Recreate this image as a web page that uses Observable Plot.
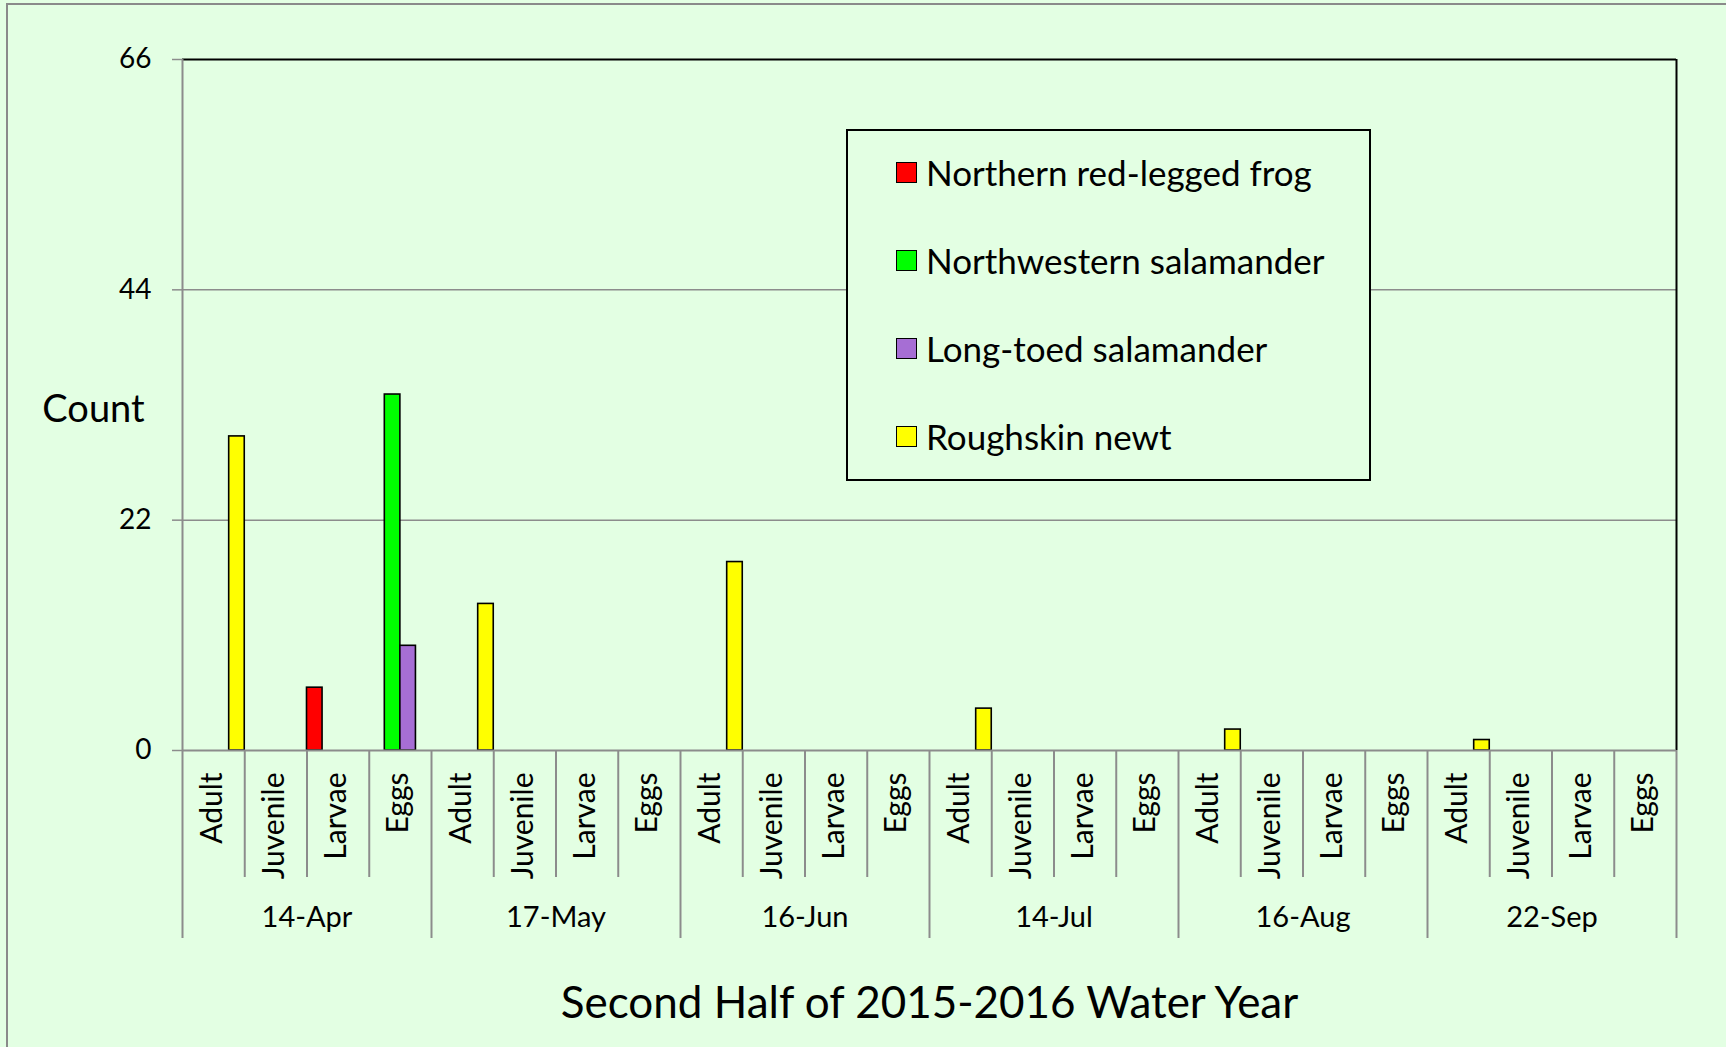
<!DOCTYPE html>
<html><head><meta charset="utf-8">
<script src="https://cdn.jsdelivr.net/npm/d3@7"></script>
<script src="https://cdn.jsdelivr.net/npm/@observablehq/plot@0.6"></script>
<style>
html,body{margin:0;padding:0;background:#E3FFE3;overflow:hidden;}
#wrap{position:relative;width:1726px;height:1047px;}
#border{position:absolute;left:6px;top:3px;width:1800px;height:1100px;border-left:2px solid #8a8a8a;border-top:2px solid #8a8a8a;box-sizing:border-box;}
#chart{position:absolute;left:0;top:0;}
#legend{position:absolute;left:846px;top:129px;width:521px;height:348px;border:2px solid #000;background:#E3FFE3;font-family:Lato, sans-serif;font-size:35px;color:#000;}
.row{position:absolute;left:48px;display:flex;align-items:center;height:40px;white-space:nowrap;}
.sw{width:19px;height:19px;border:1.5px solid #000;margin-right:9px;flex:none;}
</style></head><body>
<div id="wrap"><div id="border"></div><div id="chart"></div><div id="legend"></div></div>
<script>
const dates = ["14-Apr", "17-May", "16-Jun", "14-Jul", "16-Aug", "22-Sep"];
const stages = ["Adult", "Juvenile", "Larvae", "Eggs"];
const seriesNames = ["Northern red-legged frog", "Northwestern salamander", "Long-toed salamander", "Roughskin newt"];
const seriesColors = ["#FF0000", "#00FF00", "#A66ED4", "#FFFF00"];
const yTicks = [0, 22, 44, 66];
// values per date × stage (Adult, Juvenile, Larvae, Eggs)
const redLeggedFrog   = [0,0,6,0,  0,0,0,0,  0,0,0,0,  0,0,0,0,  0,0,0,0,  0,0,0,0];
const nwSalamander    = [0,0,0,34, 0,0,0,0,  0,0,0,0,  0,0,0,0,  0,0,0,0,  0,0,0,0];
const ltSalamander    = [0,0,0,10, 0,0,0,0,  0,0,0,0,  0,0,0,0,  0,0,0,0,  0,0,0,0];
const roughskinNewt   = [30,0,0,0, 14,0,0,0, 18,0,0,0, 4,0,0,0,  2,0,0,0,  1,0,0,0];
const seriesValues = [redLeggedFrog, nwSalamander, ltSalamander, roughskinNewt];

const cats = dates.flatMap(d => stages.map(s => ({key: d + "|" + s, date: d, stage: s})));
const keys = cats.map(c => c.key);
const data = seriesNames.flatMap((name, si) => cats.map((c, i) => ({key: c.key, series: name, value: seriesValues[si][i]})));

const W = 1726, H = 1047, mL = 182, mR = 50, mT = 59, mB = 297;
const plotW = W - mL - mR, plotH = H - mT - mB;
const bw = plotW / keys.length;
const grid = "#8c8c8c";

const bars = seriesNames.map((name, si) => Plot.barY(data.filter(d => d.series === name && d.value > 0), {
  x: "key", y: "value", fill: seriesColors[si], stroke: "#000", strokeWidth: 1.6,
  insetLeft: si * bw / 4, insetRight: (3 - si) * bw / 4
}));

const dateStarts = dates.map(d => d + "|Adult");
const stageInner = cats.filter(c => c.stage !== "Adult").map(c => c.key);

const chart = Plot.plot({
  width: W, height: H, marginLeft: mL, marginRight: mR, marginTop: mT, marginBottom: mB,
  style: {fontFamily: "Lato, sans-serif", background: "transparent", overflow: "visible", color: "#000"},
  x: {type: "band", domain: keys, padding: 0, round: false, axis: null},
  y: {domain: [0, 66], axis: null},
  marks: [
    Plot.ruleY([22, 44], {stroke: grid, strokeWidth: 1.5}),
    ...bars,
    Plot.ruleY([66], {stroke: "#000", strokeWidth: 2}),
    Plot.ruleX([keys[keys.length - 1]], {dx: bw / 2, stroke: "#000", strokeWidth: 2}),
    Plot.ruleY([0], {stroke: grid, strokeWidth: 2}),
    // stage separators below axis
    Plot.ruleX(stageInner, {dx: -bw / 2, stroke: grid, strokeWidth: 2, insetTop: plotH, insetBottom: -127}),
    // date separators (full height for first)
    Plot.ruleX([keys[0]], {dx: -bw / 2, stroke: grid, strokeWidth: 2, insetBottom: -188}),
    Plot.ruleX(dateStarts.slice(1), {dx: -bw / 2, stroke: grid, strokeWidth: 2, insetTop: plotH, insetBottom: -188}),
    Plot.ruleX([keys[keys.length - 1]], {dx: bw / 2, stroke: grid, strokeWidth: 2, insetTop: plotH, insetBottom: -188}),
    Plot.axisY({ticks: yTicks, tickSize: 10, tickPadding: 21, fontSize: 28, stroke: grid, strokeWidth: 1.5, label: null}),
    Plot.text(cats, {x: "key", text: "stage", frameAnchor: "bottom", dx: 8, dy: 22, rotate: -90, textAnchor: "end", fontSize: 30, fill: "#000"}),
    Plot.text(dates, {x: d => d + "|Larvae", text: d => d, frameAnchor: "bottom", dx: -bw / 2, dy: 176, fontSize: 29, fill: "#000"}),
    Plot.text(["Count"], {text: d => d, frameAnchor: "left", dx: -89, dy: 5, fontSize: 38, textAnchor: "middle", fill: "#000"}),
    Plot.text(["Second Half of 2015-2016 Water Year"], {text: d => d, frameAnchor: "bottom", dy: 267, fontSize: 44, fill: "#000"})
  ]
});
document.getElementById("chart").appendChild(chart);

const legend = document.getElementById("legend");
const rowTops = [21, 109, 197, 285];
seriesNames.forEach((name, i) => {
  const row = document.createElement("div");
  row.className = "row";
  row.style.top = rowTops[i] + "px";
  const sw = document.createElement("div");
  sw.className = "sw";
  sw.style.background = seriesColors[i];
  const t = document.createElement("span");
  t.textContent = name;
  row.appendChild(sw); row.appendChild(t);
  legend.appendChild(row);
});
</script>
</body></html>
